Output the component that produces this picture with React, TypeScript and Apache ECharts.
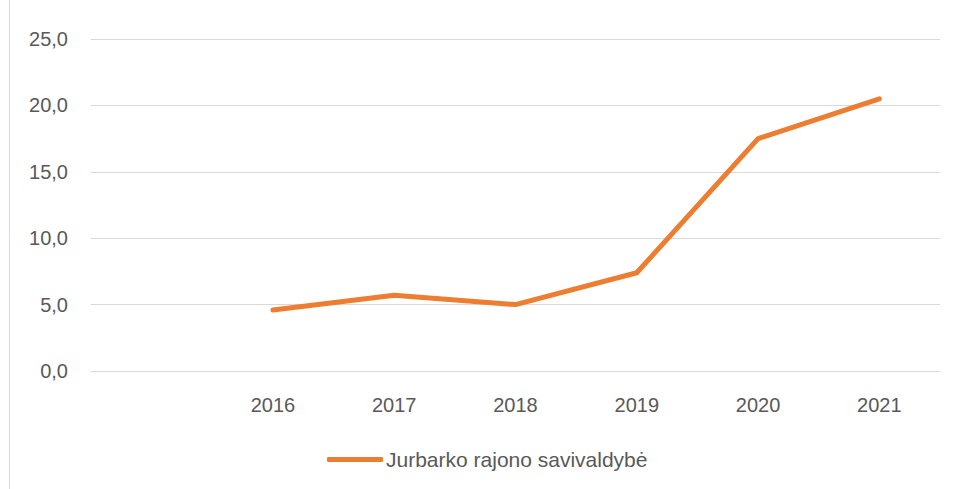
import React, { useEffect, useRef } from "react";
import * as echarts from "echarts";

const categories = ["", "2016", "2017", "2018", "2019", "2020", "2021"];
const values = [null, 4.6, 5.7, 5.0, 7.4, 17.5, 20.5];
const seriesName = "Jurbarko rajono savivaldybė";
const yTicks = [0, 5, 10, 15, 20, 25];

export default function App() {
  const ref = useRef<HTMLDivElement>(null);
  useEffect(() => {
    if (!ref.current) return;
    const chart = echarts.init(ref.current, null, { renderer: "svg" });
    const font = "Liberation Sans";
    chart.setOption({
      animation: false,
      backgroundColor: "#ffffff",
      grid: { left: 91, right: 15, top: 39, bottom: 118 },
      graphic: [
        {
          type: "line",
          shape: { x1: 9.5, y1: 0, x2: 9.5, y2: 489 },
          style: { stroke: "#d9d9d9", lineWidth: 1 },
        },
      ],
      legend: {
        data: [{ name: seriesName, icon: "roundRect" }],
        left: 322,
        top: 444,
        itemWidth: 56,
        itemHeight: 5,
        itemGap: 10,
        textStyle: { color: "#595959", fontSize: 21, fontFamily: font, padding: [0, 0, 0, -2] },
      },
      xAxis: {
        type: "category",
        data: categories,
        boundaryGap: true,
        axisLine: { show: true, lineStyle: { color: "#d9d9d9", width: 1 } },
        axisTick: { show: false },
        axisLabel: { color: "#595959", fontSize: 20, fontFamily: font, margin: 24 },
        splitLine: { show: false },
      },
      yAxis: {
        type: "value",
        min: yTicks[0],
        max: yTicks[yTicks.length - 1],
        interval: 5,
        axisLine: { show: false },
        axisTick: { show: false },
        axisLabel: {
          color: "#595959",
          fontSize: 20,
          fontFamily: font,
          margin: 23,
          formatter: (v: number) => v.toFixed(1).replace(".", ","),
        },
        splitLine: { lineStyle: { color: "#d9d9d9", width: 1 } },
      },
      series: [
        {
          name: seriesName,
          type: "line",
          data: values,
          showSymbol: false,
          symbol: "none",
          lineStyle: { color: "#ed7d31", width: 5, cap: "round", join: "round" },
          itemStyle: { color: "#ed7d31" },
        },
      ],
    });
    return () => chart.dispose();
  }, []);
  return (
    <div
      ref={ref}
      style={{ position: "absolute", left: 0, top: 0, width: 955, height: 489 }}
    />
  );
}
